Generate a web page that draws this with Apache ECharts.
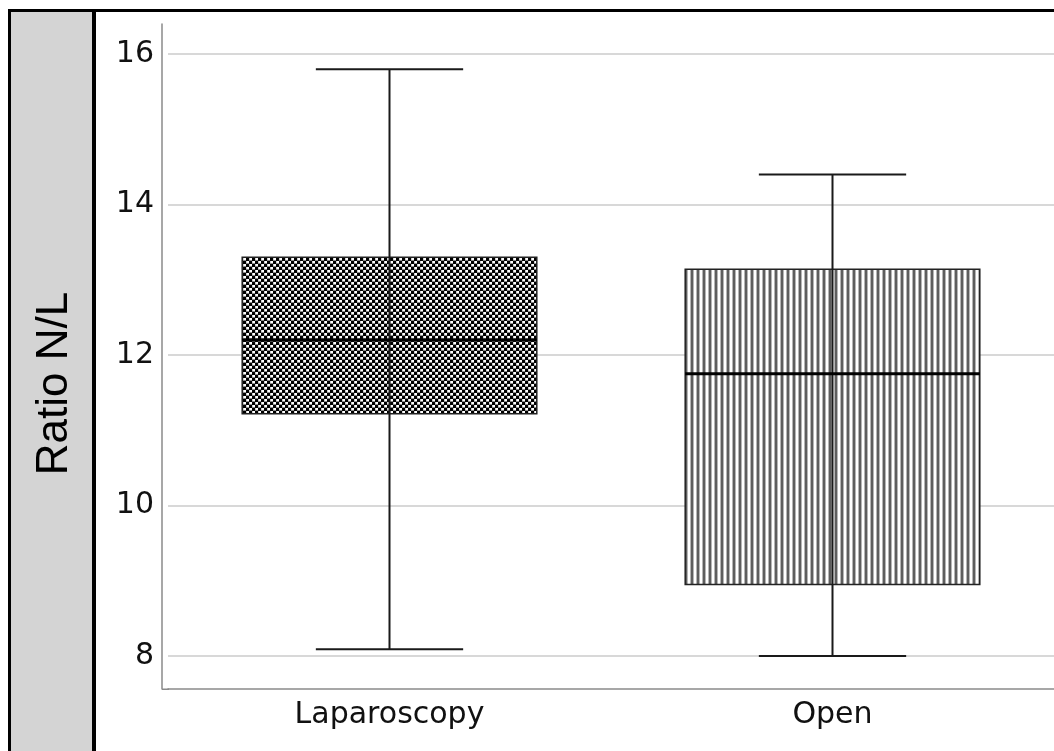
<!DOCTYPE html>
<html>
<head>
<meta charset="utf-8">
<script src="https://cdn.jsdelivr.net/npm/echarts@6/dist/echarts.min.js"></script>
<style>
html,body{margin:0;padding:0;background:#fff;}
#chart{width:1054px;height:751px;}
</style>
</head>
<body>
<div id="chart"></div>
<script>
// ---- data ----
const categories = ['Laparoscopy', 'Open'];
const mins    = [8.09, 8.0];
const q1s     = [11.22, 8.95];
const medians = [12.2, 11.75];
const q3s     = [13.3, 13.14];
const maxs    = [15.8, 14.4];
const yTicks  = [8, 10, 12, 14, 16];
const yAxisTitle = 'Ratio N/L';

// ---- patterns ----
function checkerPattern() {
  const c = document.createElement('canvas');
  c.width = 6; c.height = 6;
  const g = c.getContext('2d');
  g.fillStyle = '#000'; g.fillRect(0, 0, 6, 6);
  // white cells with soft grey edge
  g.fillStyle = '#8a8a8a';
  g.fillRect(3, 0, 3, 3);
  g.fillRect(0, 3, 3, 3);
  g.fillStyle = '#fff';
  g.fillRect(3, 0, 3, 2);
  g.fillRect(0, 3, 3, 2);
  g.fillStyle = '#d0d0d0';
  g.fillRect(3, 0, 1, 2);
  g.fillRect(0, 3, 1, 2);
  return c;
}
function stripePattern() {
  const c = document.createElement('canvas');
  c.width = 6; c.height = 6;
  const g = c.getContext('2d');
  g.fillStyle = '#fff'; g.fillRect(0, 0, 6, 6);
  g.fillStyle = '#b5b5b5'; g.fillRect(0, 0, 1, 6); g.fillRect(3, 0, 1, 6);
  g.fillStyle = '#5e5e5e'; g.fillRect(1, 0, 2, 6);
  return c;
}
const patterns = [checkerPattern(), stripePattern()];

const data = categories.map((c, i) => [i, mins[i], q1s[i], medians[i], q3s[i], maxs[i]]);

const chart = echarts.init(document.getElementById('chart'), null, {renderer: 'canvas'});

chart.setOption({
  animation: false,
  backgroundColor: '#fff',
  graphic: [
    {type: 'rect', shape: {x: 11, y: 12, width: 81, height: 739}, style: {fill: '#d4d4d4'}, z: 0},
    {type: 'rect', shape: {x: 8, y: 9, width: 1046, height: 3}, style: {fill: '#000'}, z: 1},
    {type: 'rect', shape: {x: 8, y: 9, width: 3, height: 742}, style: {fill: '#000'}, z: 1},
    {type: 'rect', shape: {x: 92, y: 9, width: 4, height: 742}, style: {fill: '#000'}, z: 1},
    {type: 'rect', shape: {x: 162, y: 688.5, width: 7, height: 1.5}, style: {fill: '#8a8a8a'}, z: 1}
  ],
  grid: {left: 168, right: -2, top: 24, bottom: 62, containLabel: false},
  xAxis: {
    type: 'category',
    data: categories,
    axisLine: {show: true, lineStyle: {color: '#8a8a8a', width: 1.5}},
    axisTick: {show: false},
    axisLabel: {color: '#111', fontFamily: 'DejaVu Sans', fontSize: 30, margin: 11},
    splitLine: {show: false}
  },
  yAxis: {
    type: 'value',
    min: 7.56,
    max: 16.4,
    offset: 6,
    name: yAxisTitle,
    nameLocation: 'middle',
    nameRotate: 90,
    nameGap: 107,
    nameTextStyle: {color: '#000', fontFamily: 'Liberation Sans', fontSize: 44, verticalAlign: 'middle', padding: [0, 54, 0, 0]},
    axisLine: {show: true, lineStyle: {color: '#8a8a8a', width: 1.5}},
    axisTick: {show: false, customValues: yTicks},
    axisLabel: {customValues: yTicks, color: '#111', fontFamily: 'DejaVu Sans', fontSize: 30, margin: 8},
    splitLine: {show: true, lineStyle: {color: '#d8d8d8', width: 2}}
  },
  series: [{
    type: 'custom',
    data: data,
    encode: {x: 0, y: [1, 2, 3, 4, 5]},
    renderItem: function (params, api) {
      const idx = api.value(0);
      const pLo = api.coord([idx, api.value(1)]);
      const pQ1 = api.coord([idx, api.value(2)]);
      const pMed = api.coord([idx, api.value(3)]);
      const pQ3 = api.coord([idx, api.value(4)]);
      const pHi = api.coord([idx, api.value(5)]);
      const cx = pLo[0];
      const bw = api.size([1, 0])[0] * 0.665;
      const cap = bw / 2;
      const lineStyle = {stroke: '#1a1a1a', lineWidth: 2};
      return {
        type: 'group',
        children: [
          {type: 'rect', shape: {x: cx - bw / 2, y: pQ3[1], width: bw, height: pQ1[1] - pQ3[1]},
           style: {fill: {image: patterns[params.dataIndex], repeat: 'repeat'}, stroke: '#222', lineWidth: 1.5}},
          {type: 'line', shape: {x1: cx, y1: pHi[1], x2: cx, y2: pLo[1]}, style: lineStyle},
          {type: 'line', shape: {x1: cx - cap / 2, y1: pHi[1], x2: cx + cap / 2, y2: pHi[1]}, style: lineStyle},
          {type: 'line', shape: {x1: cx - cap / 2, y1: pLo[1], x2: cx + cap / 2, y2: pLo[1]}, style: lineStyle},
          {type: 'line', shape: {x1: cx - bw / 2, y1: pMed[1], x2: cx + bw / 2, y2: pMed[1]}, style: {stroke: '#000', lineWidth: 3}}
        ]
      };
    }
  }]
});
</script>
</body>
</html>
